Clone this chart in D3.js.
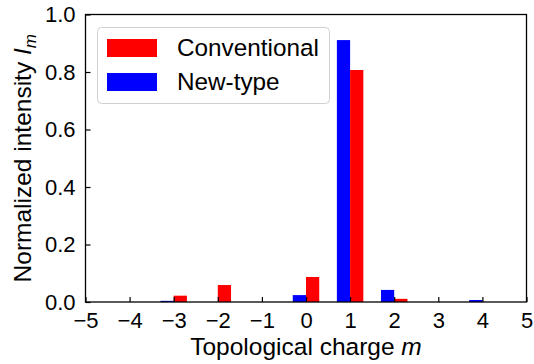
<!DOCTYPE html>
<html><head><meta charset="utf-8">
<script src="https://cdn.jsdelivr.net/npm/d3@7"></script>
<style>body{margin:0;background:#fff}svg{display:block}text{font-family:"Liberation Sans",Arial,sans-serif}</style>
</head><body>
<script>
const charges = [-4,-3,-2,-1,0,1,2,3,4];
const conventional = [0, 0.022, 0.059, 0, 0.087, 0.807, 0.011, 0, 0];
const newType = [0, 0.004, 0, 0, 0.024, 0.911, 0.042, 0, 0.007];
const xTicks = [-5,-4,-3,-2,-1,0,1,2,3,4,5];
const yTicks = [0,0.2,0.4,0.6,0.8,1.0];
const seriesNames = ["Conventional","New-type"];
const seriesColors = ["#ff0000","#0000ff"];

const W=534,H=364;
const L=85.5,R=526.5,T=14.5,B=302;
const svg=d3.select("body").append("svg").attr("width",W).attr("height",H);
const x=d3.scaleLinear().domain([-5,5]).range([L,R]);
const y=d3.scaleLinear().domain([0,1]).range([B,T]);
const bw=0.3;

// bars
const g=svg.append("g");
g.selectAll("rect.nt").data(charges.map((m,i)=>({m,v:newType[i]}))).enter().append("rect")
 .attr("x",d=>x(d.m-bw)).attr("width",d=>x(d.m)-x(d.m-bw))
 .attr("y",d=>y(d.v)).attr("height",d=>y(0)-y(d.v)).attr("fill",seriesColors[1]);
g.selectAll("rect.cv").data(charges.map((m,i)=>({m,v:conventional[i]}))).enter().append("rect")
 .attr("x",d=>x(d.m)).attr("width",d=>x(d.m+bw)-x(d.m))
 .attr("y",d=>y(d.v)).attr("height",d=>y(0)-y(d.v)).attr("fill",seriesColors[0]);

// axes
const fs=22;
const xa=svg.append("g").attr("transform",`translate(0,${B})`)
 .call(d3.axisBottom(x).tickValues(xTicks).tickSizeInner(-5).tickSizeOuter(0).tickPadding(10.5)
 .tickFormat(d=>d<0?"\u2212"+Math.abs(d):String(d)));
const ya=svg.append("g").attr("transform",`translate(${L},0)`)
 .call(d3.axisLeft(y).tickValues(yTicks).tickSizeInner(-5).tickSizeOuter(0).tickPadding(10)
 .tickFormat(d3.format(".1f")));
[xa,ya].forEach(a=>{a.select(".domain").remove();
 a.selectAll("line").attr("stroke","#000").attr("stroke-width",1.2);
 a.selectAll("text").attr("font-size",fs).attr("fill","#000").style("font-family","'Liberation Sans',Arial,sans-serif");});
xa.selectAll("text").attr("dy","0.71em");

// frame
svg.append("rect").attr("x",L).attr("y",T).attr("width",R-L).attr("height",B-T)
 .attr("fill","none").attr("stroke","#000").attr("stroke-width",1.3);

// axis labels
const xl=svg.append("text").attr("x",(L+R)/2).attr("y",355).attr("text-anchor","middle").attr("font-size",24.5);
xl.append("tspan").text("Topological charge ");
xl.append("tspan").attr("font-style","italic").text("m");
const yl=svg.append("text").attr("transform",`translate(31,${(T+B)/2}) rotate(-90)`).attr("text-anchor","middle").attr("font-size",24.5);
yl.append("tspan").text("Normalized intensity ");
yl.append("tspan").attr("font-style","italic").text("I");
yl.append("tspan").attr("font-style","italic").attr("font-size",17).attr("dy",5).text("m");

// legend
const lg=svg.append("g");
lg.append("rect").attr("x",97.5).attr("y",27.5).attr("width",232).attr("height",76).attr("rx",4)
 .attr("fill","#fff").attr("fill-opacity",0.8).attr("stroke","#d0d0d0").attr("stroke-width",1);
seriesNames.forEach((n,i)=>{
 lg.append("rect").attr("x",107).attr("y",39+i*34).attr("width",50).attr("height",18).attr("fill",seriesColors[i]);
 lg.append("text").attr("x",177).attr("y",56+i*34).attr("font-size",24.3).attr("fill","#000").text(n);
});
</script>
</body></html>
